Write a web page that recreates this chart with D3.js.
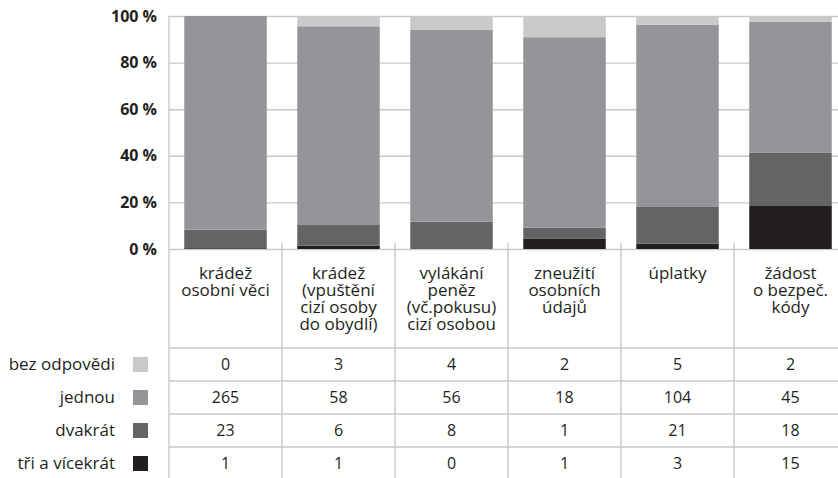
<!DOCTYPE html>
<html lang="cs">
<head>
<meta charset="UTF-8" />
<title>Četnost podle typu</title>
<style>
  body { margin: 0; background: #fff; }
  svg { display: block; font-family: "Open Sans", sans-serif; }
</style>
</head>
<body>
<div id="chart"></div>
<script src="https://d3js.org/d3.v7.min.js"></script>
<script>

// categories (lines of each label)
var categories = [
  ["krádež", "osobní věci"],
  ["krádež", "(vpuštění", "cizí osoby", "do obydlí)"],
  ["vylákání", "peněz", "(vč.pokusu)", "cizí osobou"],
  ["zneužití", "osobních", "údajů"],
  ["úplatky"],
  ["žádost", "o bezpeč.", "kódy"]
];

var seriesNames = ["bez odpovědi", "jednou", "dvakrát", "tři a vícekrát"];
var bezOdpovedi = [0, 3, 4, 2, 5, 2];
var jednou      = [265, 58, 56, 18, 104, 45];
var dvakrat     = [23, 6, 8, 1, 21, 18];
var triAVice    = [1, 1, 0, 1, 3, 15];
var yTicks = [0, 20, 40, 60, 80, 100];

var colors = {
  "bez odpovědi": "#c8c9cb",
  "jednou": "#939598",
  "dvakrát": "#636466",
  "tři a vícekrát": "#231f20"
};
var gridColor = "#c9c9c9";

var w = 838, h = 478;
var plotLeft = 169, plotTop = 16, plotBottom = 249;
var colW = 113;

var valuesBySeries = {
  "bez odpovědi": bezOdpovedi,
  "jednou": jednou,
  "dvakrát": dvakrat,
  "tři a vícekrát": triAVice
};

// one row per category for d3.stack
var rows = categories.map(function(c, i) {
  var r = { idx: i };
  seriesNames.forEach(function(s) { r[s] = valuesBySeries[s][i]; });
  return r;
});

// stack from the bottom: tři, dvakrát, jednou, bez odpovědi
var stackKeys = seriesNames.slice().reverse();
var stacked = d3.stack().keys(stackKeys).offset(d3.stackOffsetExpand)(rows);

var svg = d3.select("#chart").append("svg")
  .attr("width", w)
  .attr("height", h);

var x = d3.scaleBand()
  .domain(d3.range(categories.length))
  .range([plotLeft, plotLeft + colW * categories.length])
  .paddingInner(0.27)
  .paddingOuter(0.135);

var y = d3.scaleLinear().domain([0, 100]).range([plotBottom, plotTop]);

// gridlines + y labels
var yAxis = svg.append("g")
  .attr("transform", "translate(" + plotLeft + ",0)")
  .call(d3.axisLeft(y)
    .tickValues(yTicks)
    .tickSize(-(w - plotLeft))
    .tickPadding(12)
    .tickFormat(function(d) { return d + " %"; }));
yAxis.select(".domain").remove();
yAxis.selectAll(".tick line").attr("stroke", gridColor).attr("stroke-width", 1.4);
yAxis.selectAll(".tick text")
  .attr("fill", "#231f20")
  .style("font-size", "16px")
  .style("font-weight", "bold")
  .style("font-family", "'Open Sans', sans-serif");

// bars
svg.append("g").selectAll("g")
  .data(stacked)
  .enter()
  .append("g")
  .attr("fill", function(d) { return colors[d.key]; })
  .selectAll("rect")
  .data(function(d) { return d; })
  .enter()
  .append("rect")
  .attr("x", function(d) { return x(d.data.idx); })
  .attr("width", x.bandwidth())
  .attr("y", function(d) { return y(d[1] * 100); })
  .attr("height", function(d) { return y(d[0] * 100) - y(d[1] * 100); });

// table
var rowY = d3.scaleBand().domain(seriesNames).range([348, 348 + 33 * seriesNames.length]);

var grid = svg.append("g").attr("stroke", gridColor).attr("stroke-width", 1.4);
grid.append("line")
  .attr("x1", plotLeft).attr("x2", plotLeft).attr("y1", plotTop).attr("y2", h);
grid.selectAll("line.col")
  .data(d3.range(1, categories.length))
  .enter()
  .append("line")
  .attr("class", "col")
  .attr("x1", function(i) { return x(i) - x.step() * x.paddingInner() / 2; })
  .attr("x2", function(i) { return x(i) - x.step() * x.paddingInner() / 2; })
  .attr("y1", 243).attr("y2", h);
grid.selectAll("line.row")
  .data(seriesNames)
  .enter()
  .append("line")
  .attr("class", "row")
  .attr("x1", plotLeft).attr("x2", w)
  .attr("y1", function(s) { return rowY(s); })
  .attr("y2", function(s) { return rowY(s); });

// category labels
var catLabels = svg.append("g").selectAll("text")
  .data(categories)
  .enter()
  .append("text")
  .attr("text-anchor", "middle")
  .attr("fill", "#231f20")
  .style("font-size", "17px");
catLabels.selectAll("tspan")
  .data(function(d, i) { return d.map(function(t) { return { t: t, i: i }; }); })
  .enter()
  .append("tspan")
  .attr("x", function(d) { return x(d.i) + x.bandwidth() / 2; })
  .attr("y", function(d, j) { return 279 + j * 17; })
  .text(function(d) { return d.t; });

// row labels + swatches
svg.append("g").selectAll("text")
  .data(seriesNames)
  .enter()
  .append("text")
  .attr("x", 115)
  .attr("y", function(s) { return rowY(s) + rowY.bandwidth() / 2; })
  .attr("dy", "0.35em")
  .attr("text-anchor", "end")
  .attr("fill", "#231f20")
  .style("font-size", "17px")
  .text(function(s) { return s; });

svg.append("g").selectAll("rect")
  .data(seriesNames)
  .enter()
  .append("rect")
  .attr("x", 133)
  .attr("y", function(s) { return rowY(s) + rowY.bandwidth() / 2 - 7.5; })
  .attr("width", 15)
  .attr("height", 15)
  .attr("fill", function(s) { return colors[s]; });

// table values
seriesNames.forEach(function(s) {
  svg.append("g").selectAll("text")
    .data(valuesBySeries[s])
    .enter()
    .append("text")
    .attr("x", function(d, i) { return x(i) + x.bandwidth() / 2; })
    .attr("y", rowY(s) + rowY.bandwidth() / 2)
    .attr("dy", "0.35em")
    .attr("text-anchor", "middle")
    .attr("fill", "#231f20")
    .style("font-size", "16px")
    .text(function(d) { return d; });
});

</script>
</body>
</html>
